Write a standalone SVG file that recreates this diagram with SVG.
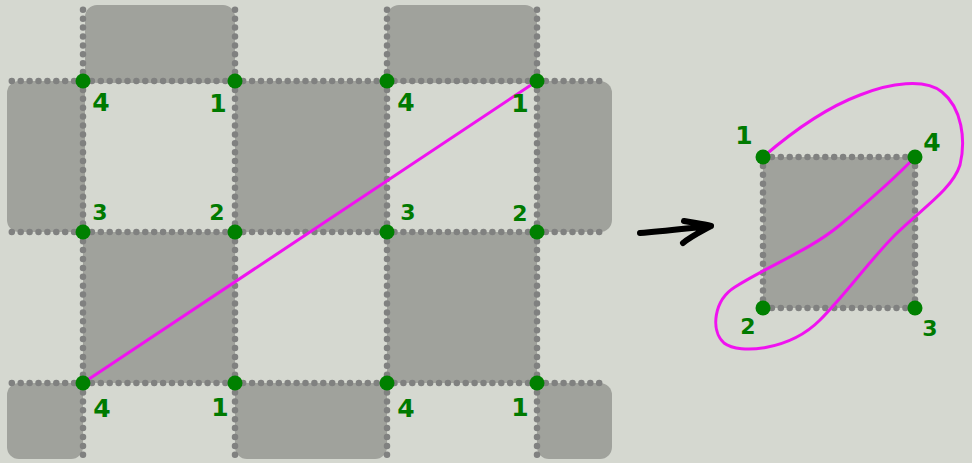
<svg xmlns="http://www.w3.org/2000/svg" width="972" height="463" viewBox="0 0 972 463">
  <style>
    .cell { fill: #a0a29c; }
    .grid { stroke: #808180; stroke-width: 6.5; stroke-linecap: round; stroke-dasharray: 0 8.9; fill: none; }
    .pt { fill: #008000; }
    .lbl { fill: #007a00; font-family: "DejaVu Sans", sans-serif; font-weight: bold; font-size: 25px; text-anchor: middle; dominant-baseline: central; }
    .sm { font-size: 22px; }
    .cut { stroke: #f012f0; stroke-width: 3; fill: none; stroke-linecap: round; stroke-linejoin: round; }
  </style>
  <rect width="972" height="463" fill="#d5d8d0"/>

  <!-- checkerboard cells -->
  <g id="cells">
    <rect class="cell" x="85" y="5" width="150" height="78" rx="12"/>
    <rect class="cell" x="387" y="5" width="150" height="78" rx="12"/>
    <rect class="cell" x="7" y="81" width="78" height="151" rx="12"/>
    <rect class="cell" x="235" y="81" width="152" height="151" rx="12"/>
    <rect class="cell" x="537" y="81" width="75" height="151" rx="12"/>
    <rect class="cell" x="83" y="232" width="152" height="151" rx="12"/>
    <rect class="cell" x="387" y="232" width="150" height="151" rx="12"/>
    <rect class="cell" x="7" y="383" width="76" height="76" rx="12"/>
    <rect class="cell" x="235" y="383" width="152" height="76" rx="12"/>
    <rect class="cell" x="537" y="383" width="75" height="76" rx="12"/>
  </g>

  <!-- dotted grid lines -->
  <g id="grid">
    <path class="grid" d="M83,81 H5"/><path class="grid" d="M83,81 H606"/>
    <path class="grid" d="M83,232 H5"/><path class="grid" d="M83,232 H606"/>
    <path class="grid" d="M83,383 H5"/><path class="grid" d="M83,383 H606"/>
    <path class="grid" d="M83,81 V5"/><path class="grid" d="M83,81 V458"/>
    <path class="grid" d="M235,81 V5"/><path class="grid" d="M235,81 V458"/>
    <path class="grid" d="M387,81 V5"/><path class="grid" d="M387,81 V458"/>
    <path class="grid" d="M537,81 V5"/><path class="grid" d="M537,81 V458"/>
  </g>

  <!-- folded single cell -->
  <g id="folded">
    <rect class="cell" x="763" y="157" width="152" height="151" rx="10"/>
    <path class="grid" d="M763,157 H915"/><path class="grid" d="M763,308 H915"/>
    <path class="grid" d="M763,157 V308"/><path class="grid" d="M915,157 V308"/>
  </g>

  <!-- connectors -->
  <g id="connectors">
    <line class="cut" x1="83" y1="383" x2="537" y2="81"/>
    <path class="cut" d="M763,157 C785,138 820,110 860,95 C890,83 925,78 942,92 C962,108 966,140 960,165 C952,190 920,210 895,235 C870,260 845,295 820,320 C790,350 740,355 724,343 C710,330 714,300 735,287 C770,265 810,250 840,225 C870,200 895,178 915,157"/>
    <path d="M640,233 C665,231 690,228 711,226 M684,221 C695,223 704,224 711,226 C700,232 690,237 683,243" fill="none" stroke="#000" stroke-width="6" stroke-linecap="round" stroke-linejoin="round"/>
  </g>

  <!-- grid corner points -->
  <g id="points">
    <circle class="pt" cx="83" cy="81" r="7.5"/><circle class="pt" cx="235" cy="81" r="7.5"/>
    <circle class="pt" cx="387" cy="81" r="7.5"/><circle class="pt" cx="537" cy="81" r="7.5"/>
    <circle class="pt" cx="83" cy="232" r="7.5"/><circle class="pt" cx="235" cy="232" r="7.5"/>
    <circle class="pt" cx="387" cy="232" r="7.5"/><circle class="pt" cx="537" cy="232" r="7.5"/>
    <circle class="pt" cx="83" cy="383" r="7.5"/><circle class="pt" cx="235" cy="383" r="7.5"/>
    <circle class="pt" cx="387" cy="383" r="7.5"/><circle class="pt" cx="537" cy="383" r="7.5"/>
  </g>

  <g id="labels">
    <text class="lbl" x="101" y="102">4</text><text class="lbl" x="218" y="103">1</text>
    <text class="lbl sm" x="100" y="212">3</text><text class="lbl sm" x="217" y="212">2</text>
    <text class="lbl" x="406" y="102">4</text><text class="lbl" x="520" y="103">1</text>
    <text class="lbl sm" x="408" y="212">3</text><text class="lbl sm" x="520" y="213">2</text>
    <text class="lbl" x="102" y="408">4</text><text class="lbl" x="220" y="407">1</text>
    <text class="lbl" x="406" y="408">4</text><text class="lbl" x="520" y="407">1</text>
  </g>

  <g id="folded-points">
    <circle class="pt" cx="763" cy="157" r="7.5"/><circle class="pt" cx="915" cy="157" r="7.5"/>
    <circle class="pt" cx="763" cy="308" r="7.5"/><circle class="pt" cx="915" cy="308" r="7.5"/>
    <text class="lbl" x="744" y="135">1</text><text class="lbl" x="932" y="142">4</text>
    <text class="lbl sm" x="748" y="326">2</text><text class="lbl sm" x="930" y="328">3</text>
  </g>
</svg>
